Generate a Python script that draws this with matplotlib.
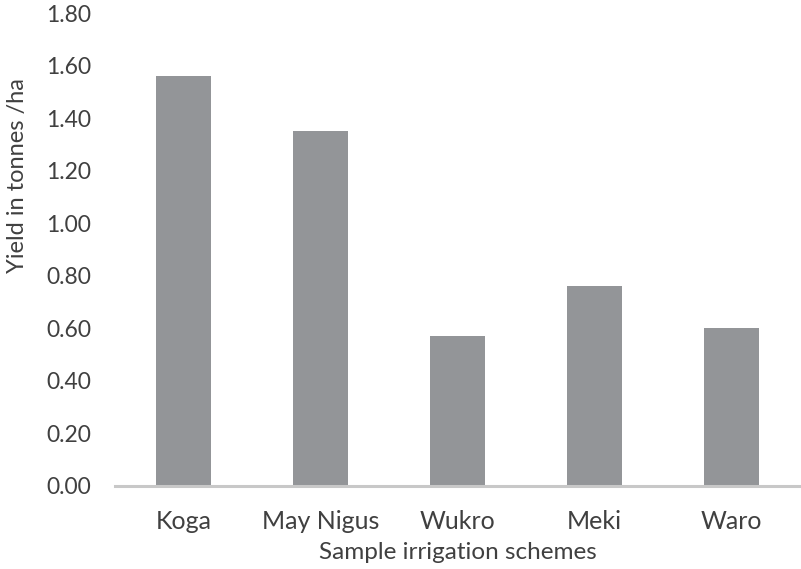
import matplotlib
matplotlib.use("Agg")
import matplotlib.pyplot as plt
import numpy as np

categories = ["Koga", "May Nigus", "Wukro", "Meki", "Waro"]
yields = [1.56, 1.35, 0.57, 0.76, 0.60]
yticks = [0.0, 0.2, 0.4, 0.6, 0.8, 1.0, 1.2, 1.4, 1.6, 1.8]

plt.rcParams['font.family'] = ['Lato', 'DejaVu Sans']
text_color = '#404040'

fig = plt.figure(figsize=(8.01, 5.69), dpi=100)
ax = fig.add_axes([115/801, (569-486)/569, 685/801, (486-13)/569])

x = np.arange(len(categories))
ax.bar(x, yields, width=0.40, color='#939598', zorder=2)

ax.set_xlim(-0.5, len(categories) - 0.5)
ax.set_ylim(0, 1.8)
ax.set_yticks(yticks)
ax.set_yticklabels([f"{v:.2f}" for v in yticks])
ax.set_xticks(x)
ax.set_xticklabels(categories)

for s in ['top', 'right', 'left']:
    ax.spines[s].set_visible(False)
ax.spines['bottom'].set_color('#c8c8c8')
ax.spines['bottom'].set_linewidth(2.2)
ax.spines['bottom'].set_zorder(3)

ax.tick_params(axis='y', length=0, labelsize=16.5, colors=text_color, pad=17)
ax.tick_params(axis='x', length=0, labelsize=18, colors=text_color, pad=17)

ax.set_ylabel("Yield in tonnes /ha", fontsize=17, color=text_color)
ax.yaxis.set_label_coords(-0.127, 0.657)
ax.set_xlabel("Sample irrigation schemes", fontsize=17.5, color=text_color, labelpad=7)

fig.savefig("out.png", dpi=100)
